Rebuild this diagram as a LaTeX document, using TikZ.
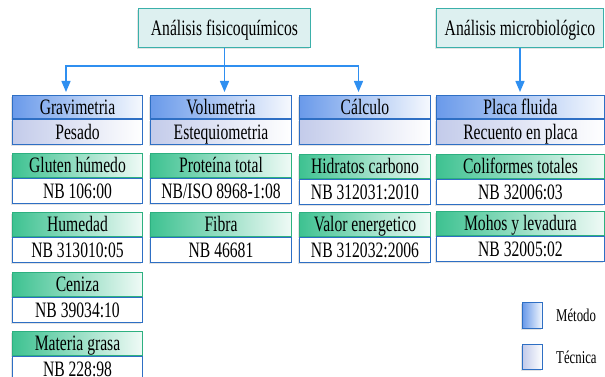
\documentclass[tikz,border=0pt]{standalone}
\usepackage{fontspec}
\setmainfont{Liberation Serif}[FakeStretch=0.71]
\usetikzlibrary{arrows.meta,shadows,positioning}
\definecolor{linea}{HTML}{2F8FF0}
\definecolor{tealborde}{HTML}{3BB0AA}
\definecolor{tealfondo}{HTML}{DDF0F0}
\definecolor{metodo}{HTML}{6A9AEA}
\definecolor{tecnica}{HTML}{C3CBEA}
\definecolor{norma}{HTML}{3EC291}
\definecolor{normaborde}{HTML}{2DB080}
\definecolor{bordeazul}{HTML}{2E6FC4}
\tikzset{x=1pt, y=-1pt,
    every node/.style={inner sep=0pt, font=\fontsize{22}{26}\selectfont,
        text height=14.5pt, text depth=0pt},
    sombra/.style={drop shadow={opacity=0.22, shadow xshift=-1.5pt, shadow yshift=-1.5pt}},
    analisis/.style={draw=tealborde, fill=tealfondo, line width=1pt,
        anchor=north west, minimum height=39pt, sombra},
    metodobox/.style={draw=bordeazul, line width=1pt, left color=metodo,
        right color=metodo!6!white, anchor=north west, minimum height=23pt, sombra},
    tecnicabox/.style={draw=bordeazul, line width=1pt, left color=tecnica,
        right color=white, minimum height=25pt, sombra},
    normabox/.style={draw=normaborde, line width=1pt, left color=norma,
        right color=norma!8!white, anchor=north west, minimum height=24pt, sombra},
    codigobox/.style={draw=bordeazul, line width=1pt, fill=white,
        minimum height=25pt, sombra},
    flecha/.style={draw=linea, line width=1.4pt, shorten >=3pt,
        -{Triangle[width=9pt,length=11pt]}},
    leyenda/.style={font=\fontsize{18}{21}\selectfont, text height=12pt, anchor=west},
    }
\begin{document}
\begin{tikzpicture}
\useasboundingbox (0,0) rectangle (605,377);
% analisis
\node[analisis, minimum width=172pt] (fisico) at (138,8) {Análisis fisicoquímicos};
\node[analisis, minimum width=167pt] (micro) at (436,8) {Análisis microbiológico};
% metodos y tecnicas
\node[metodobox, minimum width=130pt] (grav) at (12,95) {Gravimetria};
\node[tecnicabox, minimum width=130pt, below=0pt of grav] (pesado) {Pesado};
\node[metodobox, minimum width=141pt] (vol) at (150,95) {Volumetria};
\node[tecnicabox, minimum width=141pt, below=0pt of vol] (esteq) {Estequiometria};
\node[metodobox, minimum width=131pt] (calc) at (299,95) {Cálculo};
\node[tecnicabox, minimum width=131pt, below=0pt of calc] (calctec) {};
\node[metodobox, minimum width=168pt] (placa) at (436,95) {Placa fluida};
\node[tecnicabox, minimum width=168pt, below=0pt of placa] (recuento) {Recuento en placa};
% normas
\node[normabox, minimum width=130pt] (gluten) at (12,153) {Gluten húmedo};
\node[codigobox, minimum width=130pt, below=0pt of gluten] (gluten-nb) {NB 106:00};
\node[normabox, minimum width=130pt] (humedad) at (12,212) {Humedad};
\node[codigobox, minimum width=130pt, below=0pt of humedad] (humedad-nb) {NB 313010:05};
\node[normabox, minimum width=130pt] (ceniza) at (12,272) {Ceniza};
\node[codigobox, minimum width=130pt, below=0pt of ceniza] (ceniza-nb) {NB 39034:10};
\node[normabox, minimum width=130pt] (grasa) at (12,331) {Materia grasa};
\node[codigobox, minimum width=130pt, below=0pt of grasa] (grasa-nb) {NB 228:98};
\node[normabox, minimum width=141pt] (proteina) at (150,153) {Proteína total};
\node[codigobox, minimum width=141pt, below=0pt of proteina] (proteina-nb) {NB/ISO 8968-1:08};
\node[normabox, minimum width=141pt] (fibra) at (150,212) {Fibra};
\node[codigobox, minimum width=141pt, below=0pt of fibra] (fibra-nb) {NB 46681};
\node[normabox, minimum width=131pt] (hidratos) at (299,154) {Hidratos carbono};
\node[codigobox, minimum width=131pt, below=0pt of hidratos] (hidratos-nb) {NB 312031:2010};
\node[normabox, minimum width=131pt] (valor) at (299,212) {Valor energetico};
\node[codigobox, minimum width=131pt, below=0pt of valor] (valor-nb) {NB 312032:2006};
\node[normabox, minimum width=168pt] (coli) at (436,154) {Coliformes totales};
\node[codigobox, minimum width=168pt, below=0pt of coli] (coli-nb) {NB 32006:03};
\node[normabox, minimum width=168pt] (mohos) at (436,211) {Mohos y levadura};
\node[codigobox, minimum width=168pt, below=0pt of mohos] (mohos-nb) {NB 32005:02};
% flechas
\coordinate (split) at ([yshift=-18pt]fisico.south);
\draw[draw=linea, line width=1.4pt] (fisico.south) -- (split);
\draw[flecha] (split) -| ([xshift=-11.5pt]grav.north);
\draw[flecha] (split) -- (split |- vol.north);
\draw[flecha] (split) -| ([xshift=-6.5pt]calc.north);
\draw[flecha] (micro.south) -- (micro.south |- placa.north);
% leyenda
\node[metodobox, minimum width=20pt, minimum height=26pt] (ley-metodo) at (522,302) {};
\node[tecnicabox, anchor=north west, minimum width=20pt, minimum height=25pt] (ley-tecnica) at (522,344) {};
\node[leyenda, right=13pt of ley-metodo] (ley-metodo-txt) {Método};
\node[leyenda, right=13pt of ley-tecnica] (ley-tecnica-txt) {Técnica};
\end{tikzpicture}
\end{document}
